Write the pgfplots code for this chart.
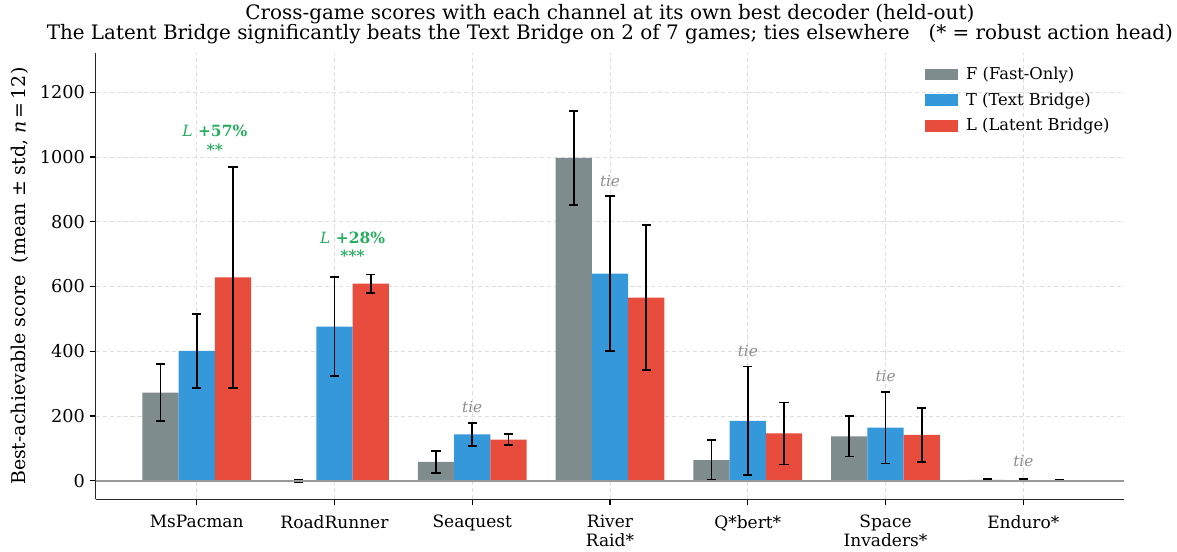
\documentclass[border=0pt]{standalone}
\usepackage{fontspec}
\setmainfont{DejaVu Serif}
\usepackage{pgfplots}
\pgfplotsset{compat=1.18}
\definecolor{cF}{HTML}{7F8C8D}
\definecolor{cT}{HTML}{3498DB}
\definecolor{cL}{HTML}{E74C3C}
\definecolor{cG}{HTML}{27AE60}
\definecolor{cTie}{HTML}{8C8C8C}
\pgfplotsset{
  mylegend/.style={legend image code/.code={\fill[##1] (0bp,-4.2bp) rectangle (23.8bp,4.2bp);}},
  myerr/.style={error bars/.cd, y dir=both, y explicit,
    error bar style={line width=1.3bp, black},
    error mark options={rotate=90, mark size=3.3bp, line width=1.3bp, black}},
}
\newcommand{\basefont}{\fontsize{11.8}{14}\selectfont}
\begin{document}
\begin{tikzpicture}
\useasboundingbox (0,0) rectangle (847.44bp,397.44bp);
\begin{axis}[
  name=ax,
  at={(68.9bp,37.9bp)}, anchor=south west,
  scale only axis, width=740.4bp, height=321.3bp,
  xmin=-0.733, xmax=6.731, ymin=-57.5, ymax=1321,
  axis lines=left, axis line style={-, line width=1.1bp, black!85},
  xtick={0,...,6},
  xticklabels={MsPacman, RoadRunner, Seaquest, River\\Raid*, Q*bert*, Space\\Invaders*, Enduro*},
  xticklabel style={align=center, font=\fontsize{12.3}{13.7}\selectfont, yshift=-3.6bp},
  ytick={0,200,...,1200},
  yticklabel style={font=\fontsize{12.8}{15}\selectfont},
  /pgf/number format/assume math mode=true,
  /pgf/number format/1000 sep={},
  tick align=outside, major tick length=4.3bp, tick style={line width=1bp, black},
  grid=major, major grid style={dash pattern=on 3bp off 2bp, line width=0.6bp, black!13},
  ylabel={Best-achievable score\ \ (mean ± std, \textit{n}\,=\,12)},
  ylabel style={font=\fontsize{13.7}{16}\selectfont, at={(axis description cs:-0.0736,0.5)}, anchor=center},
  legend style={draw=none, fill=none, at={(axis description cs:0.8065,0.975)}, anchor=north west,
    font=\basefont, row sep=4bp, inner sep=0pt,
    /tikz/every odd column/.append style={column sep=3.6bp}},
  legend cell align=left,
]
\addplot[ybar, bar width=0.263, bar shift=0, fill=cF, draw=none, mylegend, myerr]
  coordinates {(-0.263,272) +- (0,88) (0.737,0) +- (0,3) (1.737,58) +- (0,33) (2.737,997) +- (0,146) (3.737,64) +- (0,61) (4.737,137) +- (0,62) (5.737,3) +- (0,3)};
\addlegendentry{F (Fast-Only)}
\addplot[ybar, bar width=0.263, bar shift=0, fill=cT, draw=none, mylegend, myerr]
  coordinates {(0,401) +- (0,115) (1,476) +- (0,153) (2,143) +- (0,35) (3,640) +- (0,239) (4,185) +- (0,168) (5,164) +- (0,111) (6,2) +- (0,3)};
\addlegendentry{T (Text Bridge)}
\addplot[ybar, bar width=0.263, bar shift=0, fill=cL, draw=none, mylegend, myerr]
  coordinates {(0.263,628) +- (0,342) (1.263,609) +- (0,28) (2.263,127) +- (0,17) (3.263,566) +- (0,223) (4.263,146) +- (0,96) (5.263,142) +- (0,83) (6.263,2) +- (0,2)};
\addlegendentry{L (Latent Bridge)}
\addplot[black!40, line width=1.2bp, forget plot] coordinates {(-0.733,0) (6.731,0)};
% annotations
\node[font=\fontsize{11.2}{13}\selectfont\bfseries, text=cG, anchor=base] at (axis cs:0.1315,1063) {{\mdseries\itshape L} +57\%};
\node[font=\fontsize{11.2}{13}\selectfont\bfseries, text=cG, anchor=base] at (axis cs:0.1315,1006) {**};
\node[font=\fontsize{11.2}{13}\selectfont\bfseries, text=cG, anchor=base] at (axis cs:1.1315,733) {{\mdseries\itshape L} +28\%};
\node[font=\fontsize{11.2}{13}\selectfont\bfseries, text=cG, anchor=base] at (axis cs:1.1315,677) {***};
\node[font=\fontsize{11}{13}\selectfont\itshape, text=cTie, anchor=base] at (axis cs:2,212) {tie};
\node[font=\fontsize{11}{13}\selectfont\itshape, text=cTie, anchor=base] at (axis cs:3,910) {tie};
\node[font=\fontsize{11}{13}\selectfont\itshape, text=cTie, anchor=base] at (axis cs:4,385) {tie};
\node[font=\fontsize{11}{13}\selectfont\itshape, text=cTie, anchor=base] at (axis cs:5,308) {tie};
\node[font=\fontsize{11}{13}\selectfont\itshape, text=cTie, anchor=base] at (axis cs:6,43) {tie};
\end{axis}
\node[anchor=base, font=\fontsize{14.4}{16}\selectfont, yshift=24.5bp] at (ax.north) {Cross-game scores with each channel at its own best decoder (held-out)};
\node[anchor=base, font=\fontsize{14.4}{16}\selectfont, yshift=10.1bp] at (ax.north) {The Latent Bridge significantly beats the Text Bridge on 2 of 7 games; ties elsewhere\ \ \ (* = robust action head)};
\end{tikzpicture}
\end{document}
